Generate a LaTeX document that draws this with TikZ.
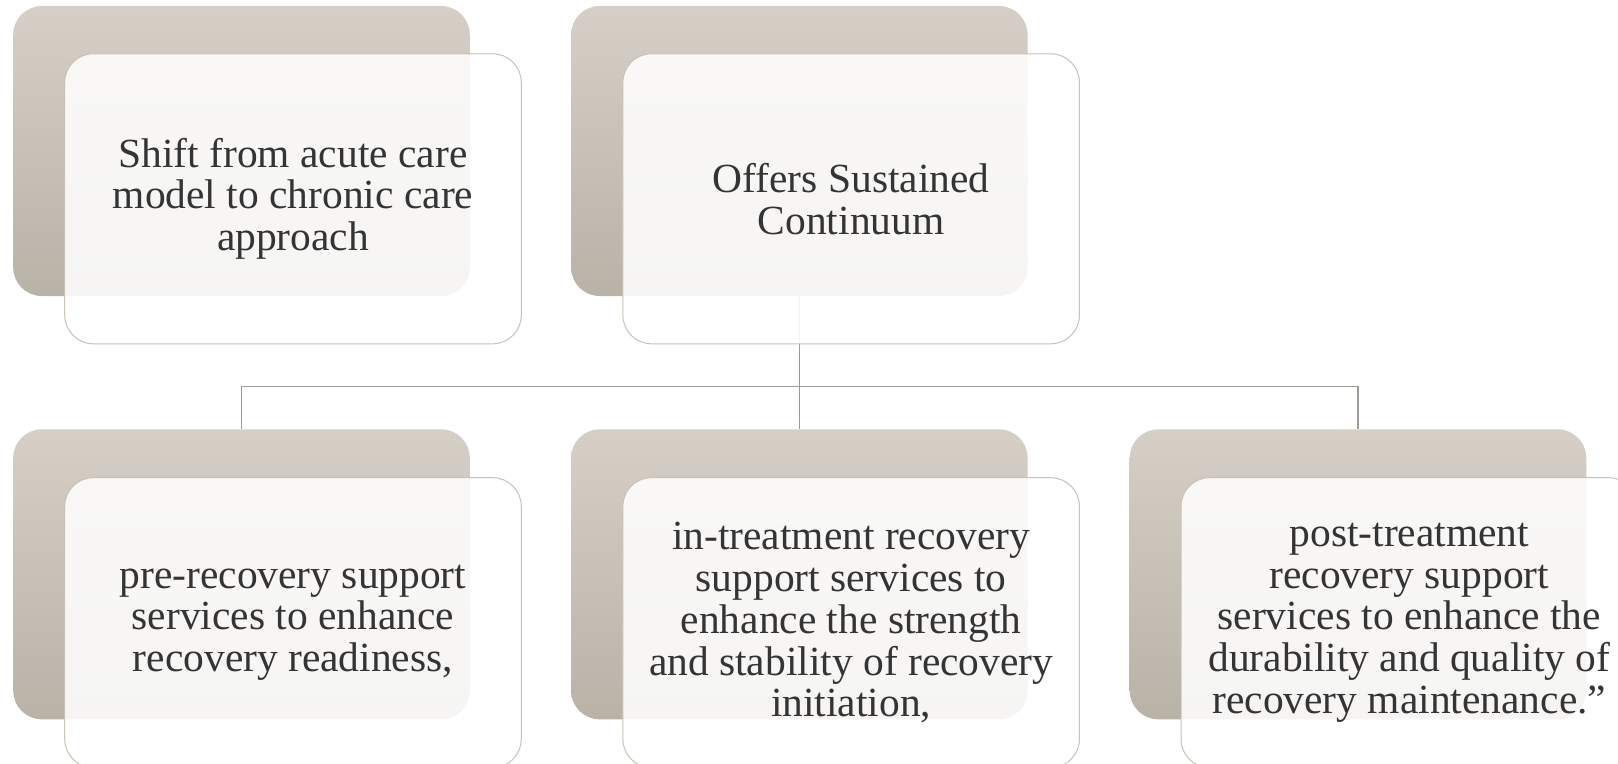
\documentclass[tikz,border=0pt]{standalone}
\usepackage{fontspec}
\setmainfont{Liberation Serif}

\definecolor{cardtop}{RGB}{214,207,199}
\definecolor{cardbot}{RGB}{185,178,167}
\definecolor{cardedge}{RGB}{201,193,182}
\definecolor{linkgray}{RGB}{160,155,148}
\definecolor{inkgray}{RGB}{52,52,52}

\tikzset{
  backcard/.style={rectangle, rounded corners=21.4pt, minimum width=342.4pt,
    minimum height=217.5pt, inner sep=0pt, draw=none,
    top color=cardtop, bottom color=cardbot},
  frontcard/.style={rectangle, rounded corners=21.4pt, minimum width=342.4pt,
    minimum height=217.5pt, inner sep=0pt, draw=cardedge, line width=0.75pt,
    fill=white, fill opacity=0.88, text opacity=1, text=inkgray,
    align=center, font=\fontsize{31.1pt}{31.4pt}\selectfont,
    execute at begin node={\rule{0pt}{25pt}}},
  link/.style={draw=linkgray, line width=1pt}
}

\begin{document}
\begin{tikzpicture}[x=0.75pt, y=-0.75pt]
  \useasboundingbox (0,0) rectangle (1618,764);

  % rear panels
  \node[backcard] (p0b) at (241.5,151) {};
  \node[backcard] (p1b) at (799.35,151) {};
  \node[backcard] (c1b) at (241.5,574.3) {};
  \node[backcard] (c2b) at (799.35,574.3) {};
  \node[backcard] (c3b) at (1358,574.3) {};

  % hierarchy connectors
  \coordinate (bus) at (799.35,386.5);
  \draw[link] (p1b.south) -- (c2b.north);
  \draw[link] (c1b.north) |- (bus) -| (c3b.north);

  % front panels with text
  \node[frontcard] (p0) at (293,198.8)
    {Shift from acute care\\model to chronic care\\approach};
  \node[frontcard] (p1) at (851.15,198.8)
    {Offers Sustained\\Continuum};
  \node[frontcard] (c1) at (293,622.7)
    {pre-recovery support\\services to enhance\\recovery readiness,};
  \node[frontcard] (c2) at (851.15,622.7)
    {in-treatment recovery\\support services to\\enhance the strength\\and stability of recovery\\initiation,};
  \node[frontcard] (c3) at (1409.3,622.7)
    {post-treatment\\recovery support\\services to enhance the\\durability and quality of\\recovery maintenance.''};
\end{tikzpicture}
\end{document}
